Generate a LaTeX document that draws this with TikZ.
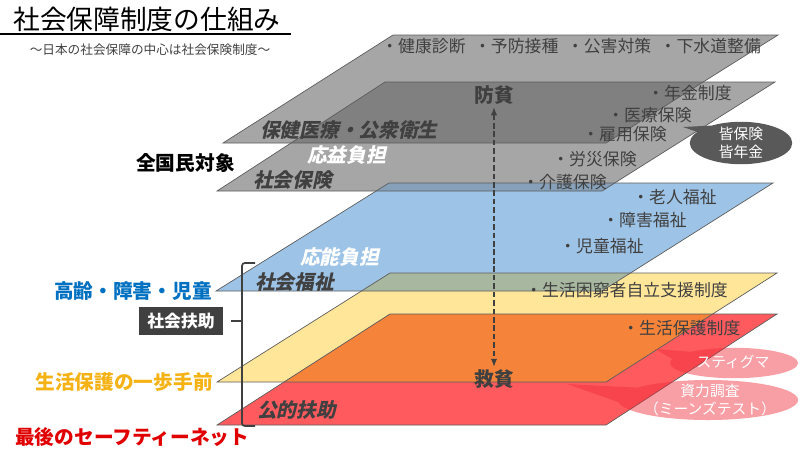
\documentclass[tikz,border=0pt]{standalone}
\usepackage{fontspec}
\setmainfont{Noto Sans CJK JP}
\newfontfamily\slantjp[FakeSlant=0.22]{Noto Sans CJK JP}
\usepackage{tikz}
\usetikzlibrary{arrows.meta, positioning}
\usepackage{xcolor}
\definecolor{textgray}{HTML}{404040}
\definecolor{planegray}{HTML}{A6A6A6}
\definecolor{overgray}{HTML}{808080}
\definecolor{planeblue}{HTML}{9DC3E6}
\definecolor{overblue}{HTML}{85A0B8}
\definecolor{planeyellow}{HTML}{FFE699}
\definecolor{overgreen}{HTML}{A8B8A0}
\definecolor{planered}{HTML}{FF5B5E}
\definecolor{overorange}{HTML}{F5843A}
\definecolor{kaigray}{HTML}{595959}
\definecolor{pinkcall}{HTML}{F02A38}
\definecolor{labelblue}{HTML}{0070C0}
\definecolor{labelgold}{HTML}{F5B215}
\definecolor{labelred}{HTML}{E00000}

\begin{document}
\begin{tikzpicture}[
      x=0.025cm, y=-0.025cm,
      plane/.style={draw=textgray!85, line width=0.5pt},
      item/.style={anchor=west, inner sep=0pt, text=textgray, font=\fontsize{12}{14}\selectfont},
      layer/.style={anchor=west, inner sep=0pt, text=textgray, font=\slantjp\bfseries\fontsize{14}{16}\selectfont},
      burden/.style={layer, text=white},
      side/.style={inner sep=0pt, font=\bfseries\fontsize{14}{16}\selectfont},
      poverty/.style={inner sep=1.5pt, text=textgray, font=\bfseries\fontsize{14}{16}\selectfont},
      callout/.style={fill=pinkcall, fill opacity=0.45},
      calltext/.style={text=white, align=center, inner sep=0pt, font=\fontsize{10.5}{12.5}\selectfont},
      arrow/.style={{Latex[length=6pt,width=4.5pt]}-{Latex[length=6pt,width=4.5pt]}, dash pattern=on 4pt off 2pt, line width=1.1pt, textgray}
    ]

    \useasboundingbox (0,0) rectangle (800,450);

    % Plane corners
    \coordinate (hTL) at (393,35);  \coordinate (hTR) at (778,35);  \coordinate (hBR) at (606,143); \coordinate (hBL) at (223,143);
    \coordinate (iTL) at (385,82);  \coordinate (iTR) at (775,82);  \coordinate (iBR) at (602,191); \coordinate (iBL) at (217,191);
    \coordinate (wTL) at (389,183); \coordinate (wTR) at (773,183); \coordinate (wBR) at (602,291); \coordinate (wBL) at (216,291);
    \coordinate (sTL) at (390,273); \coordinate (sTR) at (777,273); \coordinate (sBR) at (606,382); \coordinate (sBL) at (217,382);
    \coordinate (pTL) at (390,314); \coordinate (pTR) at (777,314); \coordinate (pBR) at (606,425); \coordinate (pBL) at (217,425);

    % Planes
    \foreach \p/\c in {h/planegray, i/planegray, w/planeblue, s/planeyellow, p/planered}
      \fill[\c] (\p TL) -- (\p TR) -- (\p BR) -- (\p BL) -- cycle;

    % Overlaps
    \foreach \a/\b/\c in {h/i/overgray, i/w/overblue, w/s/overgreen, s/p/overorange} {
      \begin{scope}
        \clip (\a TL) -- (\a TR) -- (\a BR) -- (\a BL) -- cycle;
        \fill[\c] (\b TL) -- (\b TR) -- (\b BR) -- (\b BL) -- cycle;
      \end{scope}
    }

    \foreach \p in {h,i,w,s,p}
      \draw[plane] (\p TL) -- (\p TR) -- (\p BR) -- (\p BL) -- cycle;

    % Title
    \node[anchor=west, inner sep=0pt, font=\fontsize{19}{22}\selectfont] (title) at (13,19) {社会保障制度の仕組み};
    \draw[line width=2pt] (0,34) -- (291,34);
    \node[inner sep=0pt, text=textgray, font=\fontsize{9}{11}\selectfont] (subtitle) at (150,50) {～日本の社会保障の中心は社会保険制度～};

    % Health plane
    \node[item] (kenko) at (381,46) {・健康診断\hspace{0.5em}・予防接種\hspace{0.5em}・公害対策\hspace{0.5em}・下水道整備};
    \node[layer] (hoken) at (260,130) {保健医療・公衆衛生};

    % Insurance plane
    \node[poverty] (boufin) at (494,95) {防貧};
    \node[item] (nenkin) at (647,93) {・年金制度};
    \node[item] (iryo) at (607,115) {・医療保険};
    \node[item] (koyo) at (582,134) {・雇用保険};
    \node[item] (rosai) at (552,159) {・労災保険};
    \node[item] (kaigo) at (522,182) {・介護保険};
    \node[burden] (oueki) at (307,155) {応益負担};
    \node[layer] (shaho) at (253,180) {社会保険};
    \node[side, anchor=east] (zenkoku) at (235,163) {全国民対象};

    \fill[kaigray] (741,143) ellipse [x radius=1.28cm, y radius=0.53cm]
      (722,125) -- (683,127) -- (706,135) -- cycle;
    \node[calltext] (kaihoken) at (741,143) {皆保険\\皆年金};

    % Welfare plane
    \node[item] (rojin) at (632,197) {・老人福祉};
    \node[item] (shogai) at (602,220) {・障害福祉};
    \node[item] (jido) at (559,246) {・児童福祉};
    \node[burden] (ouno) at (300,257) {応能負担};
    \node[layer] (fukushi) at (255,282) {社会福祉};
    \node[side, text=labelblue, left=1mm of wBL] (koreisha) {高齢・障害・児童};

    % Support plane
    \node[item] (konkyu) at (525,290) {・生活困窮者自立支援制度};
    \node[side, text=labelgold, left=1mm of sBL] (ippo) {生活保護の一歩手前};

    % Public assistance plane
    \node[item] (seiho) at (622,328) {・生活保護制度};
    \node[poverty] (kyuhin) at (494,379) {救貧};
    \node[layer] (kouteki) at (257,410) {公的扶助};
    \node[side, text=labelred, anchor=west] (safety) at (15,437) {最後のセーフティーネット};

    \draw[arrow] (boufin) -- (kyuhin);

    % Social assistance bracket
    \draw[textgray, line width=1.2pt, rounded corners=2pt] (255,263) -- (242,263) -- (242,426) -- (255,426);
    \draw[textgray, line width=1.2pt] (242,321) -- (231,321);
    \node[fill=textgray, text=white, inner sep=0pt, minimum width=2.08cm, minimum height=0.68cm,
          font=\bfseries\fontsize{12}{14}\selectfont] (fujo) at (181,321) {社会扶助};

    % Callouts
    \fill[callout] (734,363) ellipse [x radius=1.6cm, y radius=0.38cm]
      (695,352) -- (655,349) -- (700,375) -- cycle;
    \fill[callout] (708,400) ellipse [x radius=2.25cm, y radius=0.5cm]
      (645,388) -- (567,384) -- (655,415) -- cycle;
    \node[calltext] (stigma) at (733,362) {スティグマ};
    \node[calltext] (means) at (710,400) {資力調査\\（ミーンズテスト）};

  \end{tikzpicture}
\end{document}
